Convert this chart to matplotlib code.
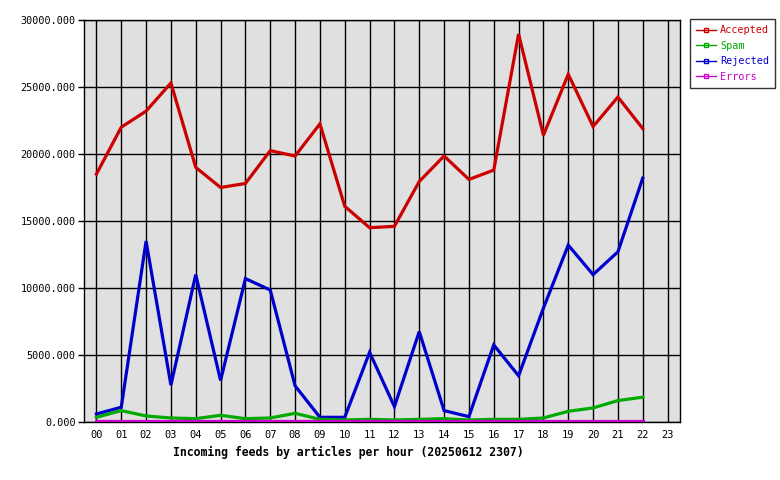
import matplotlib
matplotlib.use('Agg')
import matplotlib.pyplot as plt
from matplotlib.lines import Line2D

hours = ['00', '01', '02', '03', '04', '05', '06', '07', '08', '09', '10', '11',
         '12', '13', '14', '15', '16', '17', '18', '19', '20', '21', '22', '23']

accepted = [18500, 22000, 23200, 25300, 19000, 17500, 17800, 20250, 19850, 22250, 16100, 14500,
            14600, 17950, 19850, 18100, 18800, 28950, 21400, 25950, 22050, 24250, 21900]
spam = [350, 850, 450, 300, 250, 500, 250, 300, 650, 200, 150, 200,
        150, 200, 250, 150, 200, 200, 300, 800, 1050, 1600, 1850]
rejected = [600, 1100, 13500, 2750, 11000, 3100, 10700, 9850, 2700, 350, 350, 5200,
            1150, 6750, 850, 400, 5750, 3450, 8500, 13200, 11000, 12700, 18200]
errors = [90] * 23

series = [('Accepted', accepted, '#cc0000'),
          ('Spam', spam, '#00aa00'),
          ('Rejected', rejected, '#0000cc'),
          ('Errors', errors, '#cc00cc')]

plt.rcParams['font.family'] = ['DejaVu Sans Mono']

fig = plt.figure(figsize=(7.8, 4.8), dpi=100)
ax = fig.add_axes([84 / 780, 58 / 480, 596 / 780, 402 / 480])
ax.set_facecolor('#e0e0e0')

x = list(range(len(accepted)))
for i, (name, vals, col) in enumerate(series):
    z = 5 if name == 'Errors' else 4 - i
    ax.plot(x, vals, color=col, linewidth=2.3, solid_joinstyle='miter', zorder=z)

ax.set_xlim(-0.5, 23.5)
ax.set_ylim(0, 30000)
ax.set_xticks(range(24))
ax.set_xticklabels(hours, fontsize=7.5)
ax.set_yticks(range(0, 30001, 5000))
ax.set_yticklabels([f'{v}.000' for v in range(0, 30001, 5000)], fontsize=7.3)
ax.grid(True, color='black', linewidth=1)
ax.set_axisbelow(True)
ax.tick_params(axis='x', length=0, pad=6)
ax.tick_params(axis='y', length=4, width=1, pad=2)
for s in ax.spines.values():
    s.set_linewidth(1)

fig.text(348 / 780, 1 - 452 / 480, 'Incoming feeds by articles per hour (20250612 2307)',
         fontsize=8.3, fontweight='bold', ha='center', va='center')

handles = [Line2D([0], [0], color=col, linewidth=1, marker='s', markersize=3,
                  markerfacecolor='none', markeredgecolor=col)
           for name, vals, col in series]
leg = fig.legend(handles, [s[0] for s in series], loc='upper left',
                 bbox_to_anchor=(690 / 780, 1 - 19 / 480), fontsize=7.3,
                 frameon=True, fancybox=False, edgecolor='black',
                 handlelength=2, handletextpad=0.35, borderpad=0.6,
                 labelspacing=0.55, borderaxespad=0)
leg.get_frame().set_linewidth(1)
for t, (name, vals, col) in zip(leg.get_texts(), series):
    t.set_color(col)

fig.savefig('out.png', dpi=100)
